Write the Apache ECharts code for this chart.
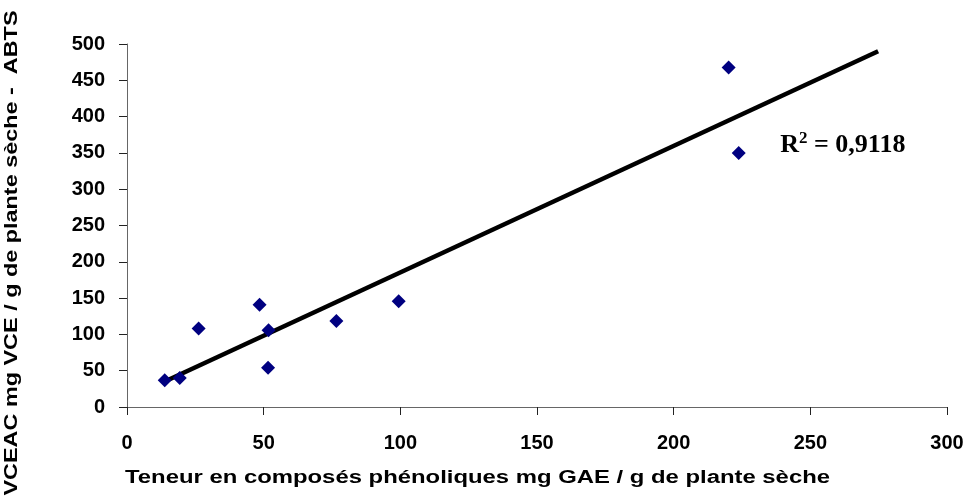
<!DOCTYPE html>
<html>
<head>
<meta charset="utf-8">
<script src="https://cdn.jsdelivr.net/npm/echarts@6/dist/echarts.min.js"></script>
<style>
  html, body { margin: 0; padding: 0; background: #fff; }
  #chart { width: 972px; height: 501px; }
</style>
</head>
<body>
<div id="chart"></div>
<script>
// teneur en composés phénoliques (mg GAE / g)
const phenolX = [13.8, 19.3, 26.2, 48.5, 51.8, 51.6, 76.6, 99.4, 220.1, 223.8]
// VCEAC ABTS (mg VCE / g)
const vceacY = [36.8, 40, 108, 141, 105.6, 54.2, 118.5, 145.6, 467.8, 349.9]
// linear trend line endpoints
const trendX = [13.4, 274.8]
const trendY = [34.4, 490]
const r2Text = '0,9118'

const xTitle = 'Teneur en composés phénoliques mg GAE / g de plante sèche'
const yTitle = 'VCEAC mg VCE / g de plante sèche -  ABTS'

const font = 'Liberation Sans, Arial, sans-serif'
const serif = 'Liberation Serif, Times New Roman, serif'

// the titles are stretched a bit wider than the plain font, as in the original
const measure = (text, size) => {
  const ctx = document.createElement('canvas').getContext('2d')
  ctx.font = 'bold ' + size + 'px ' + font
  return ctx.measureText(text).width
}
const titleSize = 18
const xScale = 705 / measure(xTitle, titleSize)
const yScale = 485 / measure(yTitle, titleSize)

const chart = echarts.init(document.getElementById('chart'))
const option = {
  animation: false,
  backgroundColor: '#fff',
  grid: { left: 127, right: 25, top: 44, bottom: 94 },
  xAxis: {
    type: 'value',
    min: 0, max: 300, interval: 50,
    splitLine: { show: false },
    axisLine: { onZero: false, lineStyle: { color: '#666', width: 1 } },
    axisTick: { show: true, length: 8, lineStyle: { color: '#222' } },
    axisLabel: { color: '#000', fontFamily: font, fontWeight: 'bold', fontSize: 20, margin: 26 }
  },
  yAxis: {
    type: 'value',
    min: 0, max: 500, interval: 50,
    splitLine: { show: false },
    axisLine: { show: true, lineStyle: { color: '#666', width: 1 } },
    axisTick: { show: true, length: 8, lineStyle: { color: '#222' } },
    axisLabel: { color: '#000', fontFamily: font, fontWeight: 'bold', fontSize: 20, margin: 22 }
  },
  graphic: [
    {
      type: 'text', x: 125, y: 478, scaleX: xScale,
      style: {
        text: xTitle, fill: '#000', fontFamily: font, fontWeight: 'bold', fontSize: titleSize,
        align: 'left', verticalAlign: 'middle'
      }
    },
    {
      type: 'text', x: 12, y: 253, rotation: Math.PI / 2, scaleX: yScale,
      style: {
        text: yTitle, fill: '#000', fontFamily: font, fontWeight: 'bold', fontSize: titleSize,
        align: 'center', verticalAlign: 'middle'
      }
    }
  ],
  series: [
    {
      type: 'line',
      data: trendX.map((x, i) => [x, trendY[i]]),
      symbol: 'none',
      lineStyle: { color: '#000', width: 4.5 },
      z: 1
    },
    {
      type: 'scatter',
      data: phenolX.map((x, i) => [x, vceacY[i]]),
      symbol: 'diamond',
      symbolSize: 14,
      itemStyle: { color: '#000080', opacity: 1 },
      z: 2
    }
  ]
}
chart.setOption(option)

// R² annotation placed in data coordinates
const pos = chart.convertToPixel({ gridIndex: 0 }, [239, 362])
chart.setOption({
  graphic: [{}, {}, {
    type: 'text', x: pos[0], y: pos[1],
    style: {
      text: '{b|R}{s|2}{b| = ' + r2Text + '}',
      align: 'left', verticalAlign: 'middle',
      rich: {
        b: { fontFamily: serif, fontWeight: 'bold', fontSize: 26, fill: '#000', verticalAlign: 'bottom' },
        s: { fontFamily: serif, fontWeight: 'bold', fontSize: 17, fill: '#000', verticalAlign: 'top', padding: [0, 0, 12, 0] }
      }
    }
  }]
})
</script>
</body>
</html>
